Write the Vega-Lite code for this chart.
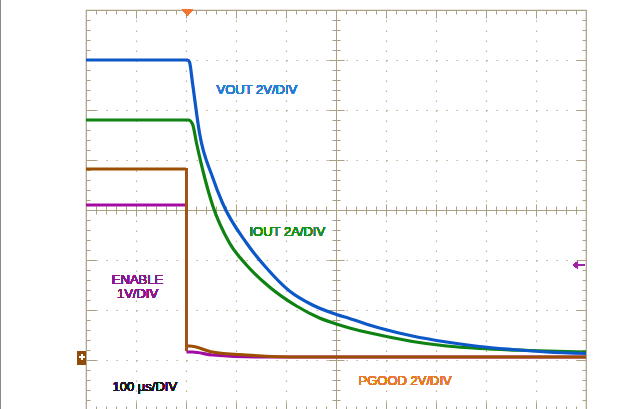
{
  "$schema": "https://vega.github.io/schema/vega-lite/v6.json",
  "width": 500,
  "height": 400,
  "autosize": "none",
  "padding": {"left": 86, "top": 10, "right": 36, "bottom": 0},
  "background": "white",
  "config": {
    "view": {"stroke": "#ab9f86", "strokeWidth": 1.2},
    "axis": {"labels": false, "title": null, "domain": false, "ticks": false, "grid": false, "tickColor": "#ab9f86", "domainColor": "#ab9f86", "gridColor": "#bdb49a", "tickWidth": 1, "domainWidth": 1}
  },
  "data": {"values": [
    {"ch": "ENABLE", "part": "pre", "t": -200, "v": 4.1},
    {"ch": "ENABLE", "part": "pre", "t": 0, "v": 4.1},
    {"ch": "ENABLE", "part": "post", "t": 1, "v": 1.16},
    {"ch": "ENABLE", "part": "post", "t": 13, "v": 1.16},
    {"ch": "ENABLE", "part": "post", "t": 53, "v": 1.1},
    {"ch": "ENABLE", "part": "post", "t": 147, "v": 1.06},
    {"ch": "ENABLE", "part": "post", "t": 800, "v": 1.06},
    {"ch": "PGOOD", "part": "pre", "t": -200, "v": 4.82},
    {"ch": "PGOOD", "part": "pre", "t": 0, "v": 4.82},
    {"ch": "PGOOD", "part": "post", "t": 1, "v": 1.28},
    {"ch": "PGOOD", "part": "post", "t": 7, "v": 1.28},
    {"ch": "PGOOD", "part": "post", "t": 53, "v": 1.16},
    {"ch": "PGOOD", "part": "post", "t": 121, "v": 1.1},
    {"ch": "PGOOD", "part": "post", "t": 227, "v": 1.06},
    {"ch": "PGOOD", "part": "post", "t": 800, "v": 1.06},
    {"ch": "IOUT", "part": "all", "t": -200, "v": 5.8},
    {"ch": "IOUT", "part": "all", "t": 5, "v": 5.8},
    {"ch": "IOUT", "part": "all", "t": 13, "v": 5.72},
    {"ch": "IOUT", "part": "all", "t": 21, "v": 5.34},
    {"ch": "IOUT", "part": "all", "t": 37, "v": 4.66},
    {"ch": "IOUT", "part": "all", "t": 53, "v": 4.1},
    {"ch": "IOUT", "part": "all", "t": 87, "v": 3.34},
    {"ch": "IOUT", "part": "all", "t": 121, "v": 2.9},
    {"ch": "IOUT", "part": "all", "t": 167, "v": 2.46},
    {"ch": "IOUT", "part": "all", "t": 221, "v": 2.08},
    {"ch": "IOUT", "part": "all", "t": 267, "v": 1.84},
    {"ch": "IOUT", "part": "all", "t": 307, "v": 1.7},
    {"ch": "IOUT", "part": "all", "t": 327, "v": 1.64},
    {"ch": "IOUT", "part": "all", "t": 387, "v": 1.5},
    {"ch": "IOUT", "part": "all", "t": 453, "v": 1.37},
    {"ch": "IOUT", "part": "all", "t": 521, "v": 1.28},
    {"ch": "IOUT", "part": "all", "t": 587, "v": 1.23},
    {"ch": "IOUT", "part": "all", "t": 687, "v": 1.19},
    {"ch": "IOUT", "part": "all", "t": 800, "v": 1.16},
    {"ch": "VOUT", "part": "all", "t": -200, "v": 7.0},
    {"ch": "VOUT", "part": "all", "t": 3, "v": 7.0},
    {"ch": "VOUT", "part": "all", "t": 7, "v": 6.96},
    {"ch": "VOUT", "part": "all", "t": 13, "v": 6.54},
    {"ch": "VOUT", "part": "all", "t": 27, "v": 5.54},
    {"ch": "VOUT", "part": "all", "t": 53, "v": 4.66},
    {"ch": "VOUT", "part": "all", "t": 73, "v": 4.14},
    {"ch": "VOUT", "part": "all", "t": 121, "v": 3.34},
    {"ch": "VOUT", "part": "all", "t": 161, "v": 2.84},
    {"ch": "VOUT", "part": "all", "t": 207, "v": 2.38},
    {"ch": "VOUT", "part": "all", "t": 253, "v": 2.1},
    {"ch": "VOUT", "part": "all", "t": 301, "v": 1.91},
    {"ch": "VOUT", "part": "all", "t": 327, "v": 1.83},
    {"ch": "VOUT", "part": "all", "t": 387, "v": 1.64},
    {"ch": "VOUT", "part": "all", "t": 453, "v": 1.48},
    {"ch": "VOUT", "part": "all", "t": 521, "v": 1.36},
    {"ch": "VOUT", "part": "all", "t": 587, "v": 1.27},
    {"ch": "VOUT", "part": "all", "t": 653, "v": 1.21},
    {"ch": "VOUT", "part": "all", "t": 721, "v": 1.16},
    {"ch": "VOUT", "part": "all", "t": 800, "v": 1.13}
  ]},
  "resolve": {"axis": {"x": "independent", "y": "independent"}},
  "layer": [
    {
      "mark": {"type": "point", "opacity": 0},
      "encoding": {
        "x": {"field": "t", "type": "quantitative", "scale": {"domain": [-200, 800], "nice": false, "zero": false},
          "axis": {"orient": "bottom", "values": [-100, 0, 100, 200, 400, 500, 600, 700], "grid": true, "gridDash": [1.5, 8.5], "gridWidth": 1.2}},
        "y": {"field": "v", "type": "quantitative", "scale": {"domain": [0, 8], "nice": false, "zero": false},
          "axis": {"orient": "left", "values": [1, 2, 3, 5, 6, 7], "grid": true, "gridDash": [1.5, 8.5], "gridWidth": 1.2}}
      }
    },
    {
      "mark": {"type": "point", "opacity": 0},
      "encoding": {
        "x": {"field": "t", "type": "quantitative",
          "axis": {"orient": "top", "ticks": true, "values": [-180,-160,-140,-120,-100,-80,-60,-40,-20,0,20,40,60,80,100,120,140,160,180,200,220,240,260,280,300,320,340,360,380,400,420,440,460,480,500,520,540,560,580,600,620,640,660,680,700,720,740,760,780],
            "tickSize": {"condition": {"test": "datum.value % 100 === 0", "value": -8}, "value": -4}}},
        "y": {"field": "v", "type": "quantitative",
          "axis": {"orient": "left", "ticks": true, "values": [0.2,0.4,0.6,0.8,1,1.2,1.4,1.6,1.8,2,2.2,2.4,2.6,2.8,3,3.2,3.4,3.6,3.8,4,4.2,4.4,4.6,4.8,5,5.2,5.4,5.6,5.8,6,6.2,6.4,6.6,6.8,7,7.2,7.4,7.6,7.8],
            "tickSize": {"condition": {"test": "abs(datum.value - round(datum.value)) < 0.01", "value": -10}, "value": -4}}}
      }
    },
    {
      "mark": {"type": "point", "opacity": 0},
      "encoding": {
        "x": {"field": "t", "type": "quantitative",
          "axis": {"orient": "bottom", "ticks": true, "values": [-180,-160,-140,-120,-100,-80,-60,-40,-20,0,20,40,60,80,100,120,140,160,180,200,220,240,260,280,300,320,340,360,380,400,420,440,460,480,500,520,540,560,580,600,620,640,660,680,700,720,740,760,780],
            "tickSize": {"condition": {"test": "datum.value % 100 === 0", "value": -8}, "value": -4}}},
        "y": {"field": "v", "type": "quantitative",
          "axis": {"orient": "right", "ticks": true, "values": [0.2,0.4,0.6,0.8,1,1.2,1.4,1.6,1.8,2,2.2,2.4,2.6,2.8,3,3.2,3.4,3.6,3.8,4,4.2,4.4,4.6,4.8,5,5.2,5.4,5.6,5.8,6,6.2,6.4,6.6,6.8,7,7.2,7.4,7.6,7.8],
            "tickSize": {"condition": {"test": "abs(datum.value - round(datum.value)) < 0.01", "value": -10}, "value": -4}}}
      }
    },
    {
      "mark": {"type": "point", "opacity": 0},
      "encoding": {
        "x": {"field": "t", "type": "quantitative",
          "axis": {"orient": "bottom", "offset": -200, "domain": true, "ticks": true, "values": [-180,-160,-140,-120,-100,-80,-60,-40,-20,0,20,40,60,80,100,120,140,160,180,200,220,240,260,280,320,340,360,380,400,420,440,460,480,500,520,540,560,580,600,620,640,660,680,700,720,740,760,780],
            "tickSize": {"condition": {"test": "datum.value % 100 === 0", "value": 6}, "value": 4}}},
        "y": {"field": "v", "type": "quantitative",
          "axis": {"orient": "left", "offset": -250, "domain": true, "ticks": true, "values": [0.2,0.4,0.6,0.8,1,1.2,1.4,1.6,1.8,2,2.2,2.4,2.6,2.8,3,3.2,3.4,3.6,3.8,4.2,4.4,4.6,4.8,5,5.2,5.4,5.6,5.8,6,6.2,6.4,6.6,6.8,7,7.2,7.4,7.6,7.8],
            "tickSize": {"condition": {"test": "abs(datum.value - round(datum.value)) < 0.01", "value": 8}, "value": 4}}}
      }
    },
    {
      "mark": {"type": "point", "opacity": 0},
      "encoding": {
        "x": {"field": "t", "type": "quantitative",
          "axis": {"orient": "bottom", "offset": -200, "ticks": true, "values": [-180,-160,-140,-120,-100,-80,-60,-40,-20,0,20,40,60,80,100,120,140,160,180,200,220,240,260,280,320,340,360,380,400,420,440,460,480,500,520,540,560,580,600,620,640,660,680,700,720,740,760,780],
            "tickSize": {"condition": {"test": "datum.value % 100 === 0", "value": -6}, "value": -4}}},
        "y": {"field": "v", "type": "quantitative",
          "axis": {"orient": "left", "offset": -250, "ticks": true, "values": [0.2,0.4,0.6,0.8,1,1.2,1.4,1.6,1.8,2,2.2,2.4,2.6,2.8,3,3.2,3.4,3.6,3.8,4.2,4.4,4.6,4.8,5,5.2,5.4,5.6,5.8,6,6.2,6.4,6.6,6.8,7,7.2,7.4,7.6,7.8],
            "tickSize": {"condition": {"test": "abs(datum.value - round(datum.value)) < 0.01", "value": -8}, "value": -4}}}
      }
    },
    {
      "mark": {"type": "line", "strokeWidth": 3.2, "interpolate": "monotone", "strokeCap": "butt", "strokeJoin": "round"},
      "encoding": {
        "x": {"field": "t", "type": "quantitative", "axis": null},
        "y": {"field": "v", "type": "quantitative", "axis": null},
        "color": {"field": "ch", "type": "nominal", "legend": null,
          "scale": {"domain": ["ENABLE", "PGOOD", "IOUT", "VOUT"], "range": ["#a20ca2", "#9c4f00", "#0f8214", "#0d58c8"]}},
        "detail": {"field": "part"}
      }
    },
    {
      "mark": {"type": "rule", "color": "#a0581a", "strokeWidth": 1.2},
      "encoding": {
        "x": {"datum": 1, "type": "quantitative", "axis": null},
        "y": {"datum": 4.84, "type": "quantitative", "axis": null},
        "y2": {"datum": 1.18}
      }
    },
    {
      "mark": {"type": "rule", "color": "#8a8a8a", "strokeWidth": 2},
      "encoding": {
        "x": {"datum": -372, "type": "quantitative", "axis": null},
        "y": {"datum": 8.3, "type": "quantitative", "axis": null},
        "y2": {"datum": -0.3}
      }
    },
    {
      "mark": {"type": "point", "shape": "M-1,-0.6 L1,-0.6 L0,0.6 Z", "size": 121, "filled": true, "color": "#f47434", "opacity": 1, "yOffset": 2.5, "xOffset": 1.5},
      "encoding": {
        "x": {"datum": 0, "type": "quantitative", "axis": null},
        "y": {"datum": 8, "type": "quantitative", "axis": null}
      }
    },
    {
      "mark": {"type": "point", "shape": "M-0.64,-1 L0.64,-1 L0.64,1 L-0.64,1 Z", "size": 196, "filled": true, "color": "#8f4a0c", "opacity": 1, "xOffset": -4.5, "yOffset": -2},
      "encoding": {
        "x": {"datum": -200, "type": "quantitative", "axis": null},
        "y": {"datum": 1, "type": "quantitative", "axis": null}
      }
    },
    {
      "mark": {"type": "point", "shape": "M-1,0 L1,0 M0,-1 L0,1", "size": 36, "filled": false, "stroke": "white", "strokeWidth": 1.6, "opacity": 1, "xOffset": -4, "yOffset": -3},
      "encoding": {
        "x": {"datum": -200, "type": "quantitative", "axis": null},
        "y": {"datum": 1, "type": "quantitative", "axis": null}
      }
    },
    {
      "mark": {"type": "point", "shape": "M-1,0 L-0.3,-0.55 L-0.3,-0.15 L1,-0.15 L1,0.15 L-0.3,0.15 L-0.3,0.55 Z", "size": 144, "filled": true, "color": "#a020a8", "opacity": 1, "xOffset": -7},
      "encoding": {
        "x": {"datum": 800, "type": "quantitative", "axis": null},
        "y": {"datum": 2.9, "type": "quantitative", "axis": null}
      }
    },
    {
      "mark": {"type": "text", "text": "VOUT 2V/DIV", "align": "left", "baseline": "alphabetic", "font": "Liberation Sans", "fontSize": 13, "fontWeight": "normal", "fill": "#2a7fd2", "fillOpacity": 0.9},
      "encoding": {
        "x": {"datum": 61, "type": "quantitative", "axis": null},
        "y": {"datum": 6.32, "type": "quantitative", "axis": null}
      }
    },
    {
      "mark": {"type": "text", "text": "IOUT 2A/DIV", "align": "left", "baseline": "alphabetic", "font": "Liberation Sans", "fontSize": 13, "fontWeight": "normal", "fill": "#1d8f1d", "fillOpacity": 0.9},
      "encoding": {
        "x": {"datum": 127, "type": "quantitative", "axis": null},
        "y": {"datum": 3.48, "type": "quantitative", "axis": null}
      }
    },
    {
      "mark": {"type": "text", "text": ["ENABLE", "1V/DIV"], "lineHeight": 14, "align": "center", "baseline": "alphabetic", "font": "Liberation Sans", "fontSize": 13, "fontWeight": "normal", "fill": "#8a1a8a", "fillOpacity": 0.9},
      "encoding": {
        "x": {"datum": -97, "type": "quantitative", "axis": null},
        "y": {"datum": 2.52, "type": "quantitative", "axis": null}
      }
    },
    {
      "mark": {"type": "text", "text": "100 µs/DIV", "align": "left", "baseline": "alphabetic", "font": "Liberation Sans", "fontSize": 13, "fontWeight": "normal", "fill": "#1a1a1a", "fillOpacity": 0.9},
      "encoding": {
        "x": {"datum": -147, "type": "quantitative", "axis": null},
        "y": {"datum": 0.38, "type": "quantitative", "axis": null}
      }
    },
    {
      "mark": {"type": "text", "text": "PGOOD 2V/DIV", "align": "left", "baseline": "alphabetic", "font": "Liberation Sans", "fontSize": 13, "fontWeight": "normal", "fill": "#e87a2c", "fillOpacity": 0.9},
      "encoding": {
        "x": {"datum": 345, "type": "quantitative", "axis": null},
        "y": {"datum": 0.5, "type": "quantitative", "axis": null}
      }
    }
  ]
}
